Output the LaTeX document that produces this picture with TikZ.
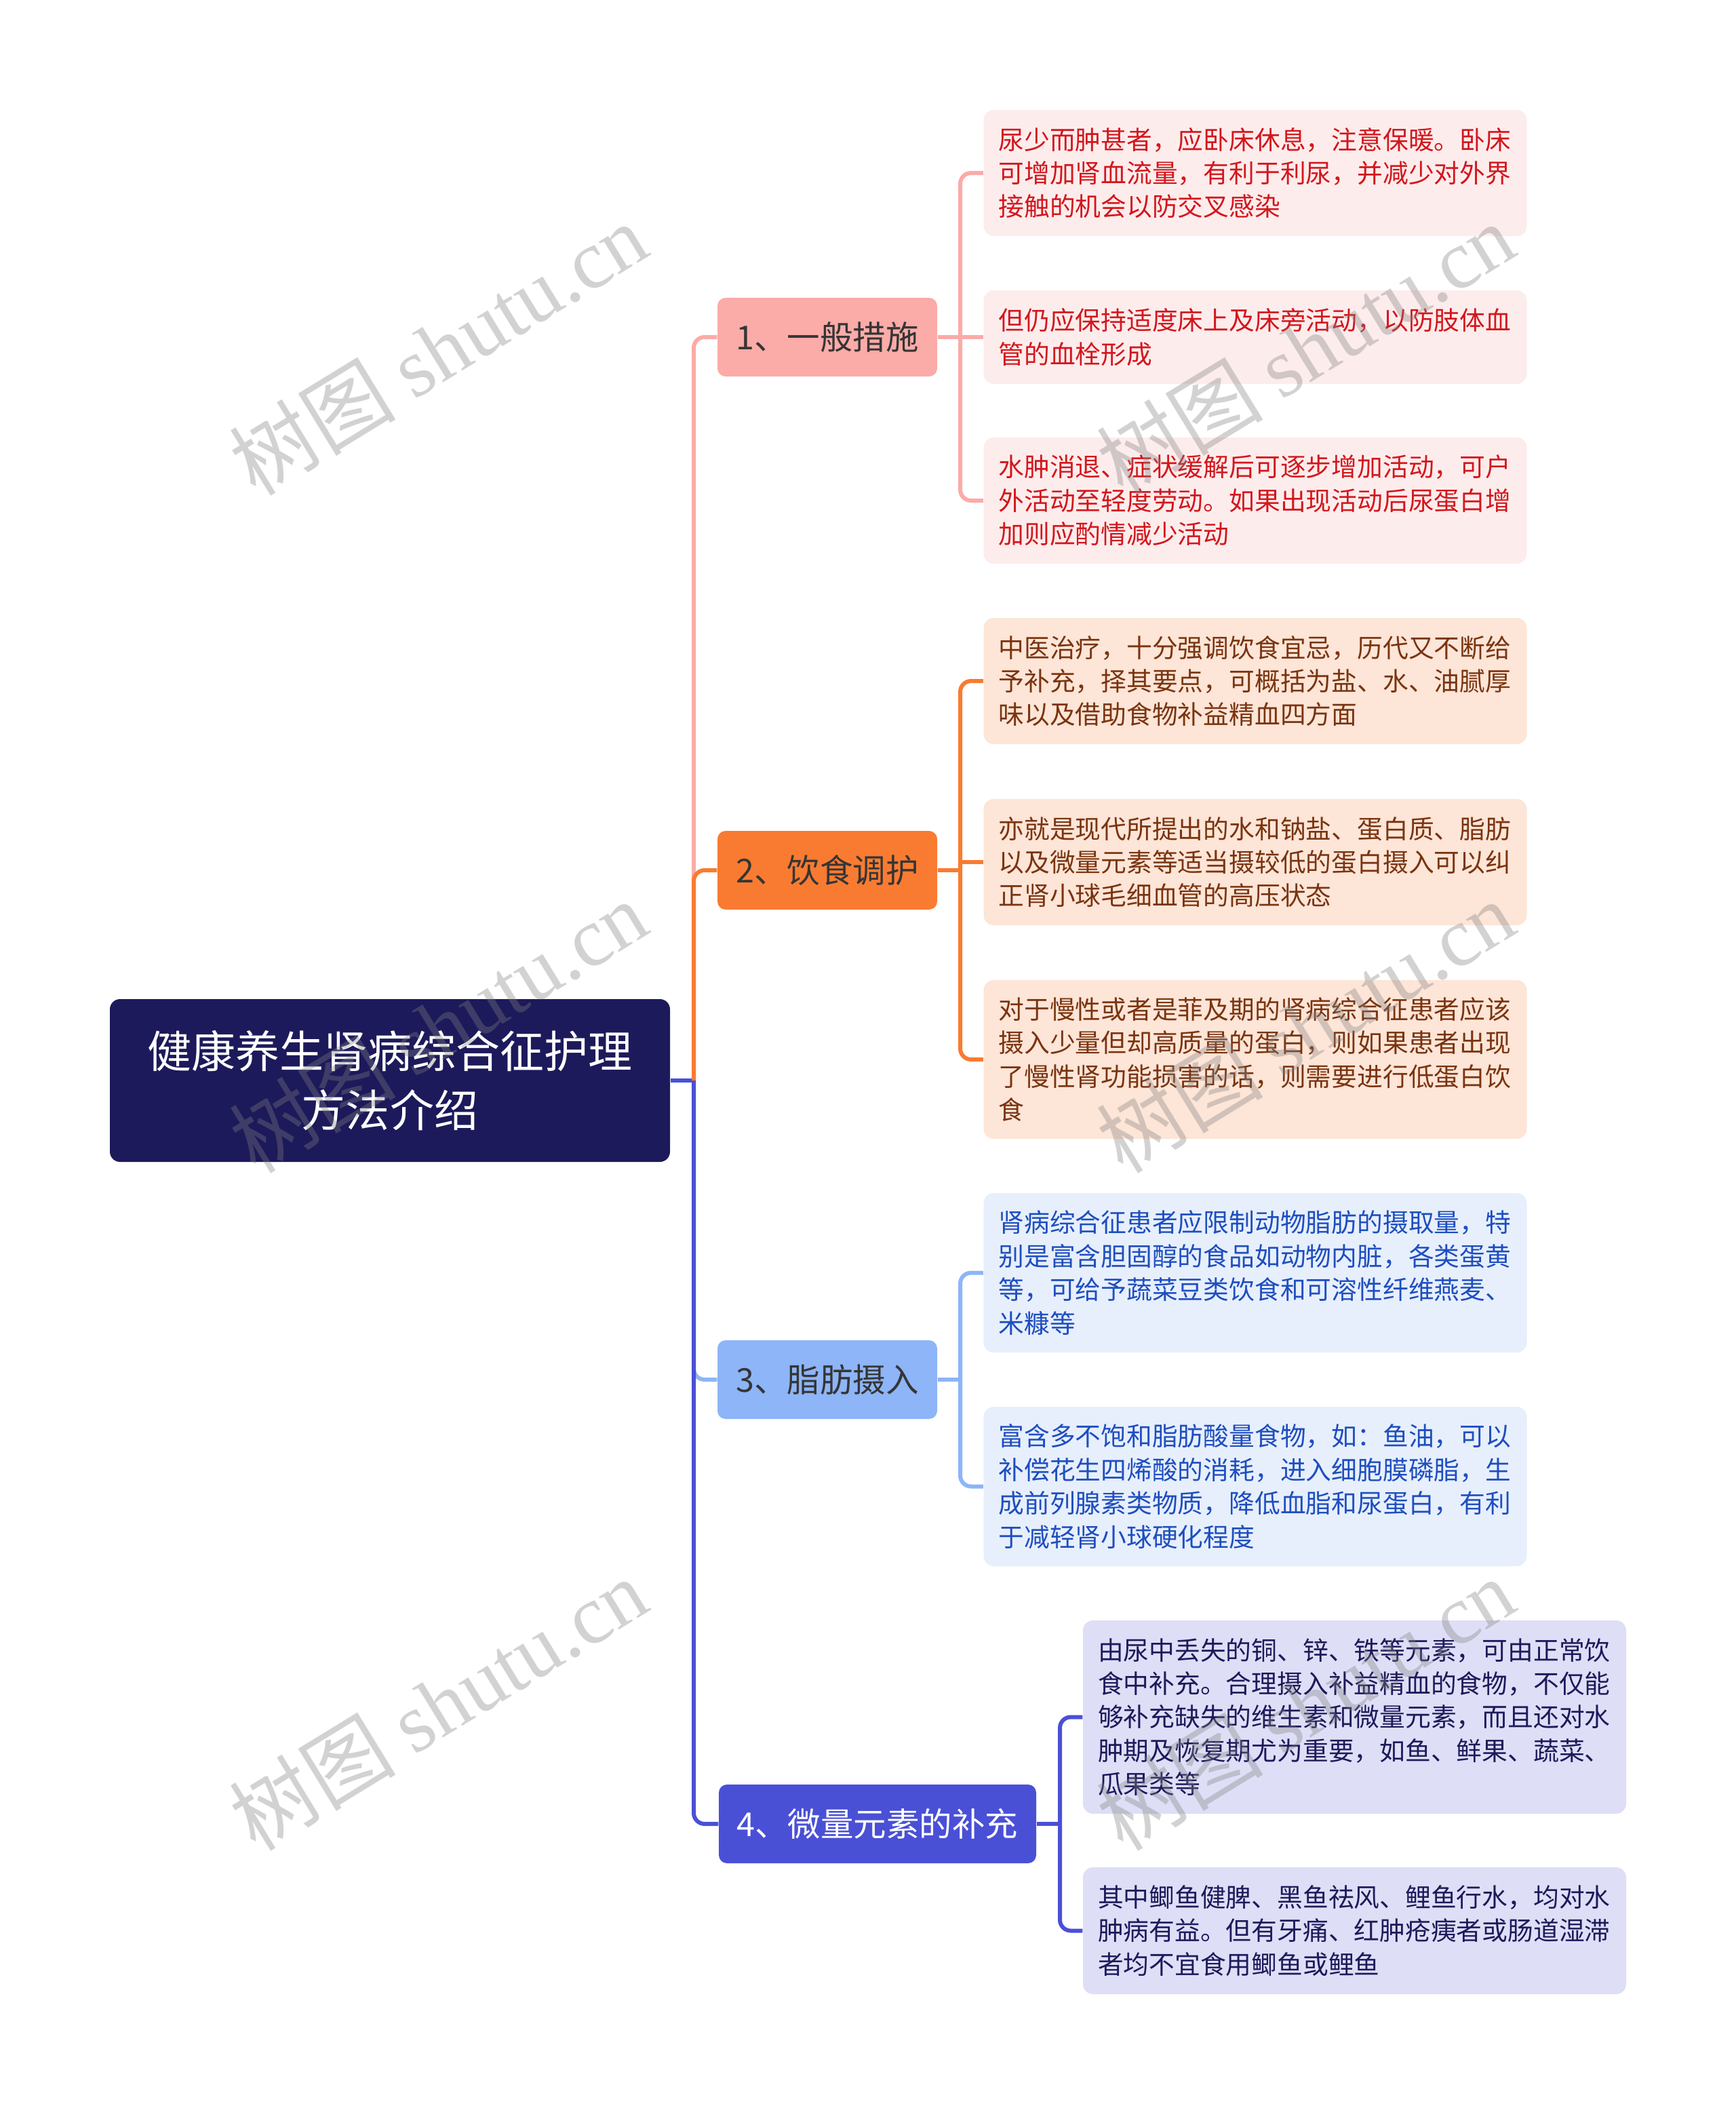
\documentclass[tikz,border=0pt]{standalone}
\usepackage{fontspec}
\setmainfont{Noto Sans CJK SC}
\newfontfamily\wmlatin{Liberation Serif}
\usepackage{xcolor}
\usepackage{tikz}
\definecolor{rootblue}{HTML}{1D1A5B}
\definecolor{branchtext}{HTML}{353535}
\definecolor{pinkmain}{HTML}{FBABA8}
\definecolor{pinkleaf}{HTML}{FDECEC}
\definecolor{pinktext}{HTML}{D2171D}
\definecolor{orangemain}{HTML}{F97B31}
\definecolor{orangeleaf}{HTML}{FDE5D7}
\definecolor{orangetext}{HTML}{7A3410}
\definecolor{bluemain}{HTML}{8DB5F7}
\definecolor{blueleaf}{HTML}{E7EFFC}
\definecolor{bluetext}{HTML}{1E4EBF}
\definecolor{indigomain}{HTML}{4A50D6}
\definecolor{indigoleaf}{HTML}{DEDEF6}
\definecolor{indigotext}{HTML}{1D1A5B}
\tikzset{
  rootbox/.style={fill=rootblue, text=white, rounded corners=0.15cm, minimum width=8.26cm, minimum height=2.40cm, align=center, font=\fontsize{18.5pt}{24.5pt}\selectfont},
  branchbox/.style={rounded corners=0.12cm, minimum height=1.16cm, inner sep=0pt, text=branchtext, font=\fontsize{13.8pt}{16pt}\selectfont},
  leafbox/.style={rounded corners=0.15cm, text width=7.57cm, inner xsep=0.22cm, inner ysep=0pt, align=left, font=\fontsize{10.75pt}{14.05pt}\selectfont},
  link/.style={line width=0.06cm, rounded corners=0.16cm},
  wmark/.style={text=black!50, text opacity=0.35, rotate=31.5, font=\fontsize{35pt}{40pt}\selectfont}
}

\begin{document}
\begin{tikzpicture}
    \path[fill=white] (0,0) rectangle (25.6,-31.02);
    \useasboundingbox (0,0) rectangle (25.6,-31.02);

    % root
    \node[rootbox] (root) at (5.75,-15.93) {健康养生肾病综合征护理\\方法介绍};

    % branches
    \node[branchbox, fill=pinkmain, minimum width=3.24cm] (b1) at (12.20,-4.97) {1、一般措施};
    \node[branchbox, fill=orangemain, minimum width=3.24cm] (b2) at (12.20,-12.83) {2、饮食调护};
    \node[branchbox, fill=bluemain, minimum width=3.24cm] (b3) at (12.20,-20.34) {3、脂肪摄入};
    \node[branchbox, fill=indigomain, text=white, minimum width=4.68cm] (b4) at (12.94,-26.89) {4、微量元素的补充};

    % 1
    \node[leafbox, fill=pinkleaf, text=pinktext, minimum height=1.86cm] (l1a) at (18.51,-2.55) {尿少而肿甚者，应卧床休息，注意保暖。卧床\\可增加肾血流量，有利于利尿，并减少对外界\\接触的机会以防交叉感染};
    \node[leafbox, fill=pinkleaf, text=pinktext, minimum height=1.38cm] (l1b) at (18.51,-4.97) {但仍应保持适度床上及床旁活动，以防肢体血\\管的血栓形成};
    \node[leafbox, fill=pinkleaf, text=pinktext, minimum height=1.86cm] (l1c) at (18.51,-7.38) {水肿消退、症状缓解后可逐步增加活动，可户\\外活动至轻度劳动。如果出现活动后尿蛋白增\\加则应酌情减少活动};

    % 2
    \node[leafbox, fill=orangeleaf, text=orangetext, minimum height=1.86cm] (l2a) at (18.51,-10.04) {中医治疗，十分强调饮食宜忌，历代又不断给\\予补充，择其要点，可概括为盐、水、油腻厚\\味以及借助食物补益精血四方面};
    \node[leafbox, fill=orangeleaf, text=orangetext, minimum height=1.86cm] (l2b) at (18.51,-12.71) {亦就是现代所提出的水和钠盐、蛋白质、脂肪\\以及微量元素等适当摄较低的蛋白摄入可以纠\\正肾小球毛细血管的高压状态};
    \node[leafbox, fill=orangeleaf, text=orangetext, minimum height=2.34cm] (l2c) at (18.51,-15.62) {对于慢性或者是菲及期的肾病综合征患者应该\\摄入少量但却高质量的蛋白，则如果患者出现\\了慢性肾功能损害的话，则需要进行低蛋白饮\\食};

    % 3
    \node[leafbox, fill=blueleaf, text=bluetext, minimum height=2.35cm] (l3a) at (18.51,-18.765) {肾病综合征患者应限制动物脂肪的摄取量，特\\别是富含胆固醇的食品如动物内脏，各类蛋黄\\等，可给予蔬菜豆类饮食和可溶性纤维燕麦、\\米糠等};
    \node[leafbox, fill=blueleaf, text=bluetext, minimum height=2.35cm] (l3b) at (18.51,-21.915) {富含多不饱和脂肪酸量食物，如：鱼油，可以\\补偿花生四烯酸的消耗，进入细胞膜磷脂，生\\成前列腺素类物质，降低血脂和尿蛋白，有利\\于减轻肾小球硬化程度};

    % 4
    \node[leafbox, fill=indigoleaf, text=indigotext, minimum height=2.85cm] (l4a) at (19.975,-25.315) {由尿中丢失的铜、锌、铁等元素，可由正常饮\\食中补充。合理摄入补益精血的食物，不仅能\\够补充缺失的维生素和微量元素，而且还对水\\肿期及恢复期尤为重要，如鱼、鲜果、蔬菜、\\瓜果类等};
    \node[leafbox, fill=indigoleaf, text=indigotext, minimum height=1.87cm] (l4b) at (19.975,-28.465) {其中鲫鱼健脾、黑鱼祛风、鲤鱼行水，均对水\\肿病有益。但有牙痛、红肿疮痍者或肠道湿滞\\者均不宜食用鲫鱼或鲤鱼};

    % trunk
    \coordinate (trunk) at (10.23,-15.93);
    \draw[link, indigomain] (root.east) -- (trunk);
    \draw[link, pinkmain] (trunk) |- (b1.west);
    \draw[link, orangemain] (trunk) |- (b2.west);
    \draw[link, bluemain] (trunk) |- (b3.west);
    \draw[link, indigomain] (trunk) |- (b4.west);

    % leaf links
    \coordinate (hub1) at (14.16,-4.97);
    \coordinate (hub2) at (14.16,-12.83);
    \coordinate (hub3) at (14.16,-20.34);
    \coordinate (hub4) at (15.63,-26.89);
    \draw[link, pinkmain] (b1.east) -- (hub1);
    \draw[link, pinkmain] (hub1) |- (l1a.west);
    \draw[link, pinkmain] (hub1) |- (l1c.west);
    \draw[link, pinkmain] (hub1) -- (l1b.west);
    \draw[link, orangemain] (b2.east) -- (hub2);
    \draw[link, orangemain] (hub2) |- (l2a.west);
    \draw[link, orangemain] (hub2) |- (l2c.west);
    \draw[link, orangemain] (hub2 |- l2b.west) -- (l2b.west);
    \draw[link, bluemain] (b3.east) -- (hub3);
    \draw[link, bluemain] (hub3) |- (l3a.west);
    \draw[link, bluemain] (hub3) |- (l3b.west);
    \draw[link, indigomain] (b4.east) -- (hub4);
    \draw[link, indigomain] (hub4) |- (l4a.west);
    \draw[link, indigomain] (hub4) |- (l4b.west);

    % watermarks
    \foreach \wx/\wy [count=\i] in {6.46/-5.14, 19.25/-5.14, 6.46/-15.13, 19.25/-15.13, 6.46/-25.12, 19.25/-25.12}
        \node[wmark] (wm\i) at (\wx,\wy) {树图 {\wmlatin shutu.cn}};
\end{tikzpicture}
\end{document}
